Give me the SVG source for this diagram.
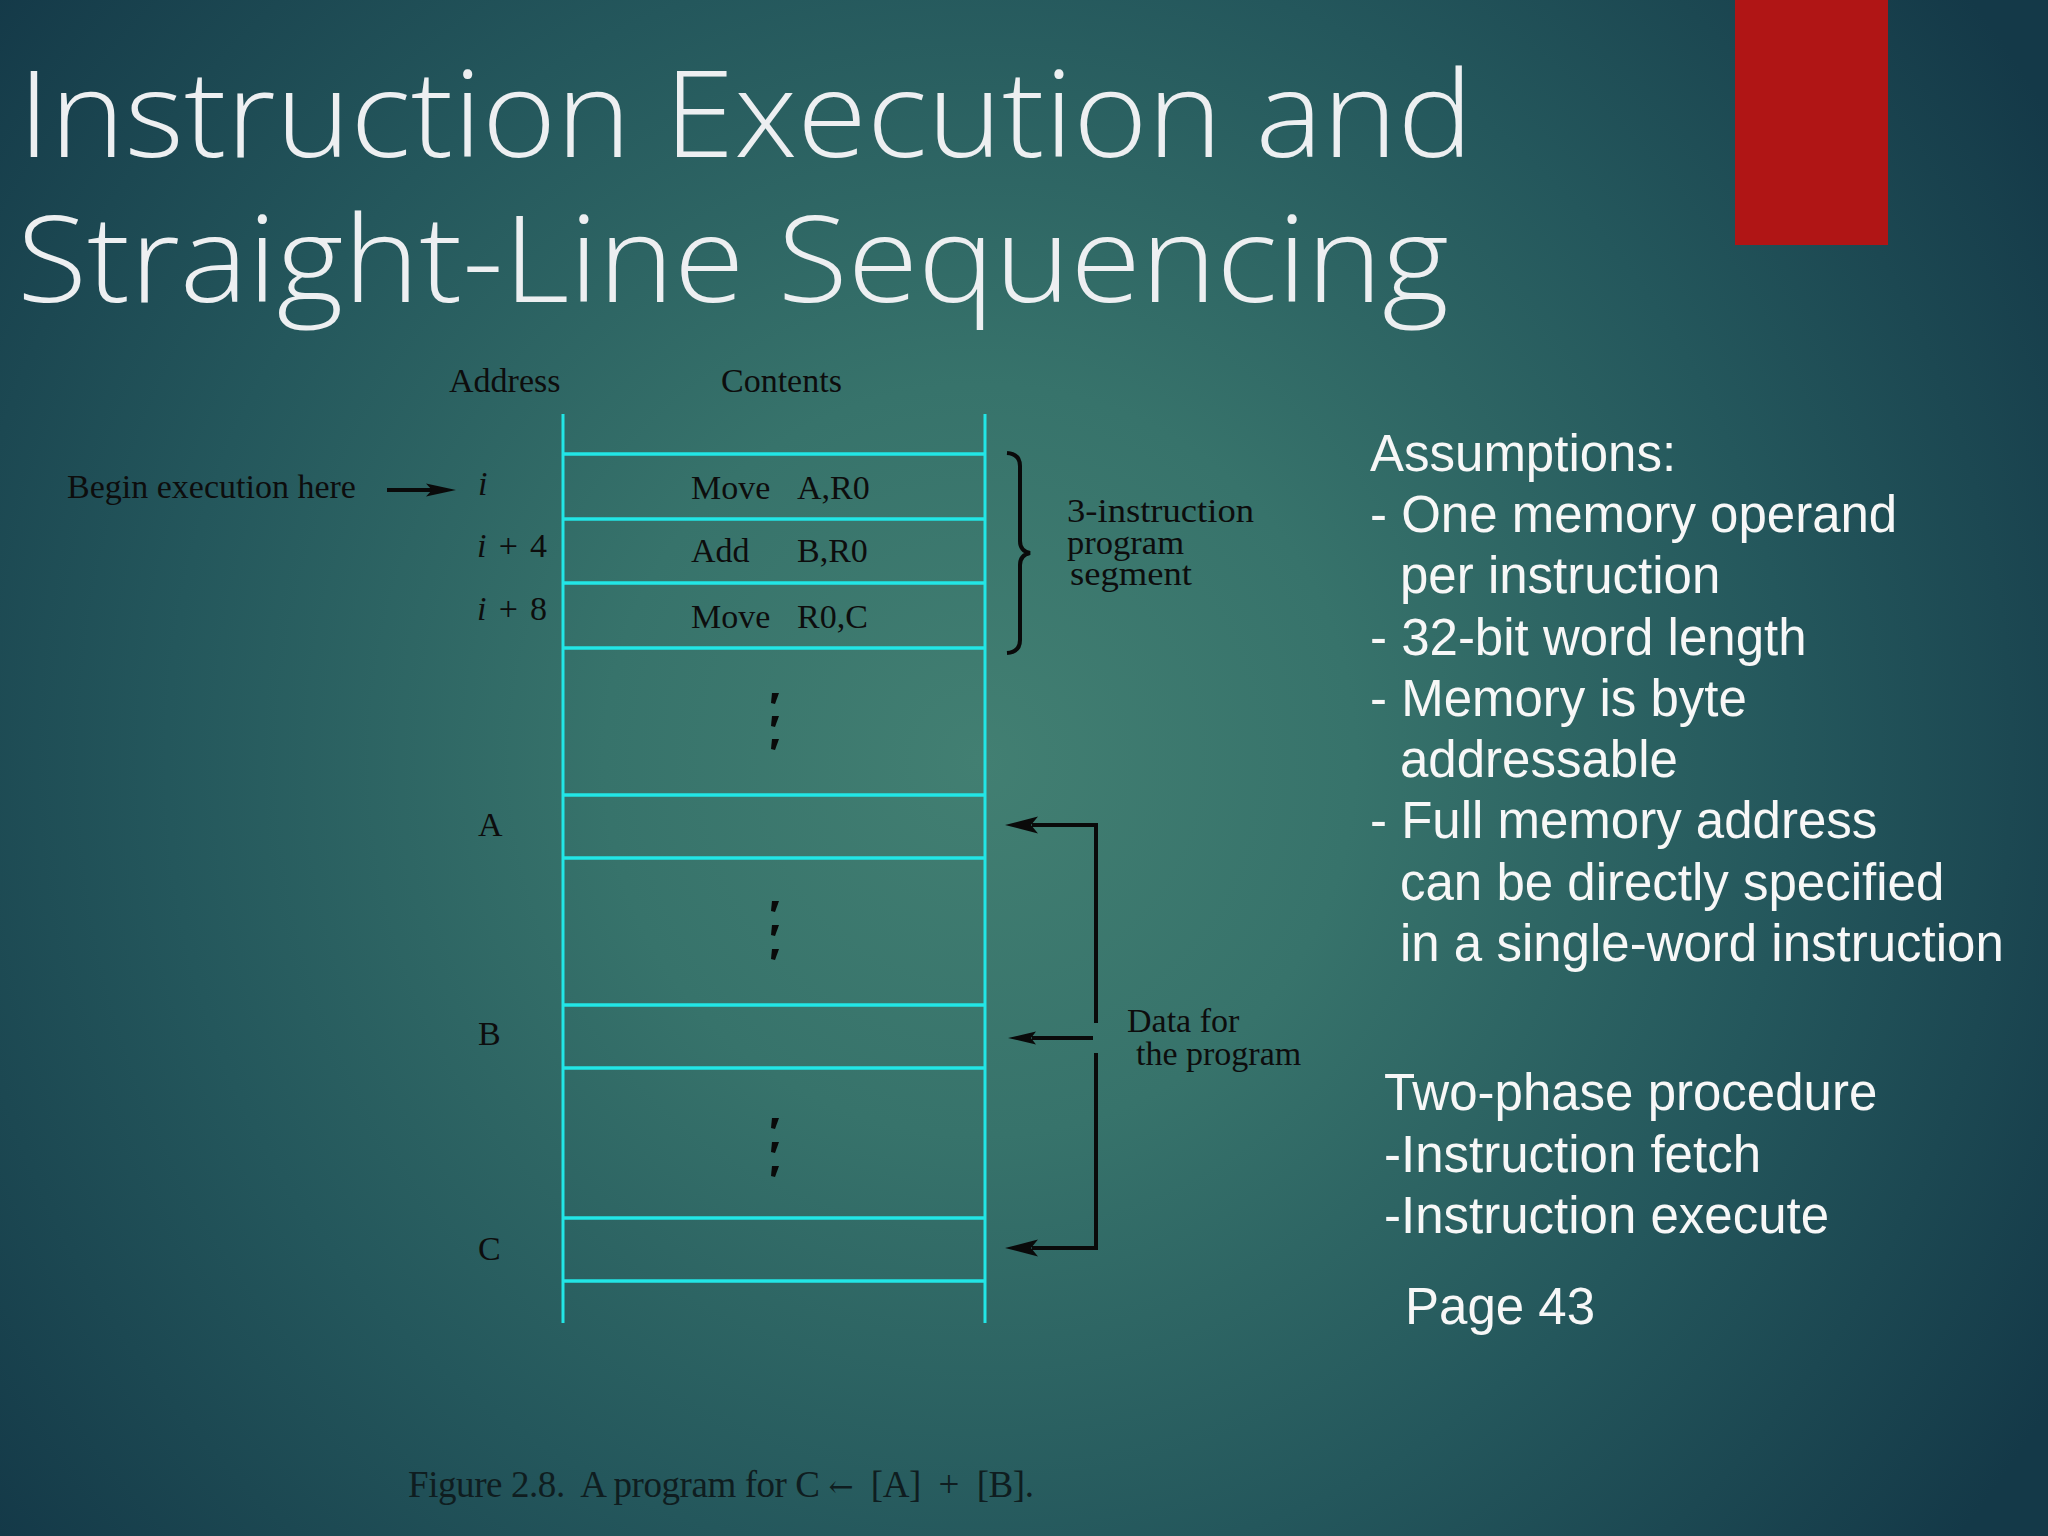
<svg xmlns="http://www.w3.org/2000/svg" width="2048" height="1536" viewBox="0 0 2048 1536">
<defs>
<radialGradient id="bg" gradientUnits="userSpaceOnUse" cx="980" cy="760" r="1250">
<stop offset="0" stop-color="#427F72"/>
<stop offset="0.3" stop-color="#37736B"/>
<stop offset="0.65" stop-color="#24575C"/>
<stop offset="1" stop-color="#143948"/>
</radialGradient>
<path id="dot" d="M-2,-6 L5,-6 L1,5 L-3,4 Z" fill="#0a0a0a"/>
<style>
.title{font-family:"Open Sans","Liberation Sans",sans-serif;font-weight:300;font-size:120px;fill:#EDEFF1}
.ser{font-family:"Liberation Serif","Times New Roman",serif;font-size:34px;fill:#0d0d0d}
.it{font-style:italic}
.cap{font-family:"Liberation Serif","Times New Roman",serif;font-size:37px;fill:#0f1d20}
.sans{font-family:"Liberation Sans",Arial,sans-serif;font-size:51px;fill:#F7F7F7}
.cy{stroke:#22E6E6;fill:none}
.conn{stroke:#0a0a0a;stroke-width:4;fill:none}
.head{fill:#0a0a0a;stroke:none}
</style>
</defs>
<rect width="2048" height="1536" fill="url(#bg)"/>
<rect id="accent" x="1735" y="0" width="153" height="245" fill="#B01515"/>
<g id="title">
<text class="title" x="18" y="157" textLength="1455" lengthAdjust="spacingAndGlyphs">Instruction Execution and</text>
<text class="title" x="17" y="302" textLength="1432" lengthAdjust="spacingAndGlyphs">Straight-Line Sequencing</text>
</g>
<g id="headers">
<text class="ser" x="449" y="392">Address</text>
<text class="ser" x="721" y="392">Contents</text>
</g>
<g id="memory">
<line class="cy" stroke-width="3" x1="563" y1="414" x2="563" y2="1323"/>
<line class="cy" stroke-width="3" x1="985" y1="414" x2="985" y2="1323"/>
<g stroke-width="3.5">
<line class="cy" x1="563" y1="454" x2="985" y2="454"/>
<line class="cy" x1="563" y1="519" x2="985" y2="519"/>
<line class="cy" x1="563" y1="583" x2="985" y2="583"/>
<line class="cy" x1="563" y1="648" x2="985" y2="648"/>
<line class="cy" x1="563" y1="795" x2="985" y2="795"/>
<line class="cy" x1="563" y1="858" x2="985" y2="858"/>
<line class="cy" x1="563" y1="1005" x2="985" y2="1005"/>
<line class="cy" x1="563" y1="1068" x2="985" y2="1068"/>
<line class="cy" x1="563" y1="1218" x2="985" y2="1218"/>
<line class="cy" x1="563" y1="1281" x2="985" y2="1281"/>
</g>
</g>
<g id="contents">
<text class="ser" x="691" y="499">Move</text><text class="ser" x="797" y="499">A,R0</text>
<text class="ser" x="691" y="562">Add</text><text class="ser" x="797" y="562">B,R0</text>
<text class="ser" x="691" y="628">Move</text><text class="ser" x="797" y="628">R0,C</text>
</g>
<g id="ellipses">
<use href="#dot" x="774" y="699"/><use href="#dot" x="774" y="722"/><use href="#dot" x="774" y="745"/>
<use href="#dot" x="774" y="907"/><use href="#dot" x="774" y="931"/><use href="#dot" x="774" y="955"/>
<use href="#dot" x="774" y="1124"/><use href="#dot" x="774" y="1148"/><use href="#dot" x="774" y="1172"/>
</g>
<g id="addresses">
<text class="ser it" x="478" y="495" font-size="36">i</text>
<text class="ser" x="477" y="557" font-size="37" textLength="70" xml:space="preserve"><tspan font-style="italic">i</tspan> + 4</text>
<text class="ser" x="477" y="620" font-size="37" textLength="70" xml:space="preserve"><tspan font-style="italic">i</tspan> + 8</text>
<text class="ser" x="478" y="836">A</text>
<text class="ser" x="478" y="1045">B</text>
<text class="ser" x="478" y="1260">C</text>
</g>
<g id="begin-label">
<text class="ser" x="67" y="498">Begin execution here</text>
</g>
<g id="segment-label">
<text class="ser" x="1067" y="522" font-size="34" textLength="187" lengthAdjust="spacingAndGlyphs">3-instruction</text>
<text class="ser" x="1067" y="554" font-size="34" textLength="117" lengthAdjust="spacingAndGlyphs">program</text>
<text class="ser" x="1070" y="585" font-size="34" textLength="122" lengthAdjust="spacingAndGlyphs">segment</text>
</g>
<g id="data-label">
<text class="ser" x="1127" y="1032">Data for</text>
<text class="ser" x="1136" y="1065">the program</text>
</g>
<g id="connectors">
<path class="conn" d="M387,490 H432"/>
<polygon class="head" points="456,490 426,483.5 432,490 426,496.5"/>
<path class="conn" stroke-width="3.5" d="M1007,453 Q1020,454 1020,466 L1020,541 Q1020,551 1030,553 Q1020,555 1020,565 L1020,640 Q1020,652 1007,653"/>
<path class="conn" d="M1096,1023 V825 H1032"/>
<polygon class="head" points="1005,825 1038,816.5 1031,825 1038,833.5"/>
<path class="conn" d="M1093,1038 H1032"/>
<polygon class="head" points="1008,1038 1036,1031.5 1031,1038 1036,1044.5"/>
<path class="conn" d="M1096,1053 V1248 H1032"/>
<polygon class="head" points="1005,1248 1038,1239.5 1031,1248 1038,1256.5"/>
</g>
<g id="assumptions">
<text class="sans" x="1370" y="471">Assumptions:</text>
<text class="sans" x="1370" y="532">- One memory operand</text>
<text class="sans" x="1400" y="593">per instruction</text>
<text class="sans" x="1370" y="655">- 32-bit word length</text>
<text class="sans" x="1370" y="716">- Memory is byte</text>
<text class="sans" x="1400" y="777">addressable</text>
<text class="sans" x="1370" y="838">- Full memory address</text>
<text class="sans" x="1400" y="900">can be directly specified</text>
<text class="sans" x="1400" y="961">in a single-word instruction</text>
</g>
<g id="procedure">
<text class="sans" x="1384" y="1110">Two-phase procedure</text>
<text class="sans" x="1384" y="1172">-Instruction fetch</text>
<text class="sans" x="1384" y="1233">-Instruction execute</text>
<text class="sans" x="1405" y="1324">Page 43</text>
</g>
<g id="caption">
<text class="cap" x="408" y="1497" textLength="626" xml:space="preserve">Figure 2.8.  A program for C <tspan font-family="DejaVu Serif, serif" font-size="30">←</tspan>  [A]  +  [B].</text>
</g>
</svg>
